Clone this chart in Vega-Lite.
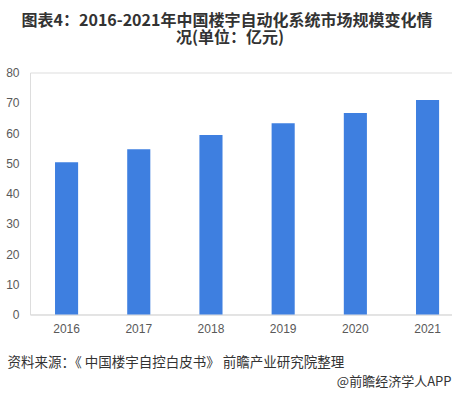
{
  "$schema": "https://vega.github.io/schema/vega-lite/v6.json",
  "width": 422,
  "height": 242,
  "autosize": {"type": "none"},
  "padding": {"left": 30, "top": 72.5, "right": 0, "bottom": 80.5},
  "background": "white",
  "data": {
    "values": [
      {"year": "2016", "value": 50.3},
      {"year": "2017", "value": 54.6},
      {"year": "2018", "value": 59.3},
      {"year": "2019", "value": 63.2},
      {"year": "2020", "value": 66.6},
      {"year": "2021", "value": 70.9}
    ]
  },
  "resolve": {"axis": {"x": "independent", "y": "independent"}},
  "layer": [
    {
      "mark": {"type": "bar", "color": "#3E7FE0"},
      "encoding": {
        "x": {
          "field": "year",
          "type": "ordinal",
          "scale": {"paddingInner": 0.68, "paddingOuter": 0.2625, "align": 0.66},
          "axis": {
            "title": "资料来源：《 中国楼宇自控白皮书》 前瞻产业研究院整理",
            "titleFont": "Noto Sans CJK SC",
            "titleFontSize": 13.5,
            "titleFontWeight": "normal",
            "titleColor": "#333333",
            "titleAlign": "left",
            "titleBaseline": "middle",
            "titleX": -23,
            "titleY": 48,
            "labelAngle": 0,
            "labelPadding": 9,
            "labelFont": "Liberation Sans",
            "labelFontSize": 12,
            "labelColor": "#595959",
            "ticks": false,
            "domainColor": "#d9d9d9",
            "grid": false
          }
        },
        "y": {
          "field": "value",
          "type": "quantitative",
          "scale": {"domain": [0, 80]},
          "axis": {
            "values": [0, 10, 20, 30, 40, 50, 60, 70, 80],
            "title": "@前瞻经济学人APP",
            "titleFont": "Noto Sans CJK SC",
            "titleFontSize": 13,
            "titleFontWeight": "normal",
            "titleColor": "#333333",
            "titleAngle": 0,
            "titleAlign": "right",
            "titleBaseline": "middle",
            "titleX": 421,
            "titleY": 308.5,
            "labelPadding": 11,
            "labelFont": "Liberation Sans",
            "labelFontSize": 12,
            "labelColor": "#595959",
            "ticks": false,
            "domain": false,
            "grid": false
          }
        }
      }
    },
    {
      "mark": {"type": "bar", "opacity": 0},
      "encoding": {
        "x": {
          "field": "year",
          "type": "ordinal",
          "axis": {
            "orient": "top",
            "title": "况(单位：亿元)",
            "titleFont": "Noto Sans CJK SC",
            "titleFontSize": 16,
            "titleFontWeight": "bold",
            "titleColor": "#333333",
            "titleAlign": "center",
            "titleBaseline": "middle",
            "titleX": 199.5,
            "titleY": -35,
            "labels": false,
            "ticks": false,
            "domain": false,
            "grid": false
          }
        },
        "y": {
          "field": "value",
          "type": "quantitative",
          "axis": {
            "orient": "right",
            "title": "图表4：2016-2021年中国楼宇自动化系统市场规模变化情",
            "titleFont": "Noto Sans CJK SC",
            "titleFontSize": 16,
            "titleFontWeight": "bold",
            "titleColor": "#333333",
            "titleAngle": 0,
            "titleAlign": "center",
            "titleBaseline": "middle",
            "titleX": -225.5,
            "titleY": -52.5,
            "labels": false,
            "ticks": false,
            "domain": false,
            "grid": false
          }
        }
      }
    }
  ]
}
